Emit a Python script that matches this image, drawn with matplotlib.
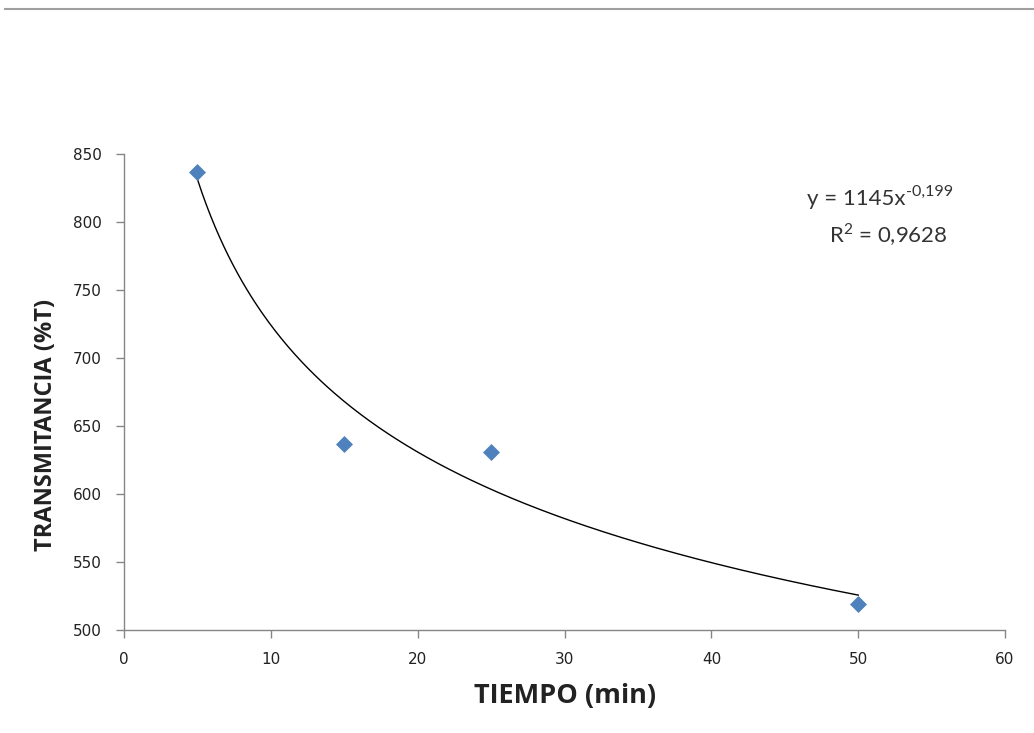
import numpy as np
import matplotlib
matplotlib.use("Agg")
import matplotlib.pyplot as plt
from matplotlib.lines import Line2D

tiempo = [5, 15, 25, 50]
transmitancia = [837, 637, 631, 519]
coef_a = 1145
coef_b = -0.199
x_ticks = [0, 10, 20, 30, 40, 50, 60]
y_ticks = [500, 550, 600, 650, 700, 750, 800, 850]

fig = plt.figure(figsize=(10.34, 7.33), dpi=100)
ax = fig.add_axes([0.12, 0.1405, 0.852, 0.6495])

xf = np.linspace(min(tiempo), max(tiempo), 300)
ax.plot(xf, coef_a * xf ** coef_b, color="black", lw=1.0, zorder=2)
ax.scatter(tiempo, transmitancia, marker="D", s=75, color="#4F81BD", zorder=3, linewidths=0)

ax.set_xlim(0, 60)
ax.set_ylim(500, 850)
ax.set_xticks(x_ticks)
ax.set_yticks(y_ticks)
for s in ["top", "right"]:
    ax.spines[s].set_visible(False)
for s in ["left", "bottom"]:
    ax.spines[s].set_color("#868686")
    ax.spines[s].set_linewidth(1.0)
ax.tick_params(axis="both", colors="#868686", labelcolor="#222222", labelsize=11, length=6, width=1, direction="out")
ax.tick_params(axis="y", pad=10)
ax.tick_params(axis="x", pad=10)

ax.set_xlabel("TIEMPO (min)", fontsize=19.5, fontweight="bold", family="Open Sans", labelpad=11, color="#222222")
ax.set_ylabel("TRANSMITANCIA (%T)", fontsize=17, fontweight="bold", family="Open Sans", color="#222222")
ax.yaxis.set_label_coords(-0.075, 0.43)

t1 = ax.text(0.8865, 0.905, "y = 1145x", transform=ax.transAxes, ha="right", va="center",
             fontsize=16, family="Lato", color="#333333")
ax.annotate("-0,199", xy=(1.0, 1.0), xycoords=t1, xytext=(1, -2), textcoords="offset points",
            ha="left", va="center", fontsize=11.5, family="Lato", color="#333333")
ax.text(0.935, 0.83, r"R$^{\mathregular{2}}$ = 0,9628", transform=ax.transAxes, ha="right", va="center",
        fontsize=16, family="Lato", color="#333333")

fig.add_artist(Line2D([0.005, 1.0], [0.988, 0.988], transform=fig.transFigure, color="#a0a0a0", lw=1.5))

fig.savefig("out.png", dpi=100)
